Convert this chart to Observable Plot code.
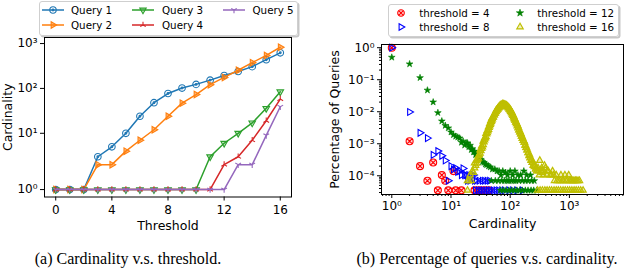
<!DOCTYPE html>
<html><head><meta charset="utf-8">
<script src="https://cdn.jsdelivr.net/npm/d3@7"></script>
<script src="https://cdn.jsdelivr.net/npm/@observablehq/plot@0.6"></script>
<style>
body{margin:0;background:#fff;}
#root{position:relative;width:636px;height:276px;overflow:hidden;font-family:"DejaVu Sans",sans-serif;background:#fff;}
.legend{position:absolute;border:1px solid #cfcfcf;border-radius:3px;background:rgba(255,255,255,0.85);box-shadow:1.5px 1.5px 0 rgba(0,0,0,0.22);}
.ltxt{position:absolute;font-size:10.3px;line-height:12px;white-space:nowrap;color:#000;}
.cap{position:absolute;font-family:"Liberation Serif",serif;font-size:16px;white-space:nowrap;transform:translateX(-50%);top:250px;color:#000;}
</style></head>
<body><div id="root"></div>
<script>
// ---------- Data: (a) Cardinality vs threshold ----------
const thresholds = [0,1,2,3,4,5,6,7,8,9,10,11,12,13,14,15,16];
const query1 = [1,1,1,3,5,10,24,48,77,102,123,153,194,238,306,437,622];
const query2 = [1,1,1,2,2,4,7,12,24,47,73,121,176,254,375,543,827];
const query3 = [1,1,1,1,1,1,1,1,1,1,1,3,6,10,17,36,84];
const query4 = [1,1,1,1,1,1,1,1,1,1,1,1,2,3,7,19,58];
const query5 = [1,1,1,1,1,1,1,1,1,1,1,1,1,2,2,9,39];
const queryNames = ["Query 1","Query 2","Query 3","Query 4","Query 5"];
const queryColors = ["#1f77b4","#ff7f0e","#2ca02c","#d62728","#9467bd"];
const xTicksA = [0,4,8,12,16];
const yTicksA = [1,10,100,1000];
const yTickLabelsA = ["10⁰","10¹","10²","10³"];

// ---------- Data: (b) Percentage of queries vs cardinality ----------
const t4Card = [1,2,3,4,5,6,7,8,9,11,12,15,25,29,33,38,44];
const t4Pct  = [1.0,1.2e-3,2.0e-4,7e-5,2.6e-4,3.5e-5,1.05e-4,7e-5,3.5e-5,1.4e-4,3.5e-5,3.5e-5,3.5e-5,3.5e-5,3.5e-5,3.5e-5,3.5e-5];

const t8Card = [1,2,3,4,5,6,7,8,9,10,11,12,13,14,15,16,17,18,19,20,21,22,24,25,26,27,29,30,32,34,35,37,39,41,43,45,47,52,58,64,72,80,95,110,130,160];
const t8Pct  = [1.0,9.8e-3,2.2e-3,1.5e-3,4.5e-4,5.9e-4,4.2e-4,3.0e-4,7e-5,2.0e-4,1.6e-4,1.75e-4,1.33e-4,1.4e-4,1.05e-4,1.7e-4,1.05e-4,1.05e-4,7e-5,1.05e-4,7e-5,1.05e-4,1.05e-4,7e-5,3.5e-5,7e-5,3.5e-5,7e-5,3.5e-5,7e-5,3.5e-5,7e-5,3.5e-5,7e-5,3.5e-5,7e-5,3.5e-5,3.5e-5,3.5e-5,3.5e-5,3.5e-5,3.5e-5,3.5e-5,3.5e-5,3.5e-5,3.5e-5];

const t12Card = [1,2,3,4,5,6,7,8,9,10,11,12,13,14,15,16,17,18,19,20,21,22,23,24,25,26,27,28,29,30,32,34,36,38,40,43,46,50,55,60,65,70,75,83,90,100,110,120,135,150,170,190,220,
  48,56,63,72,80,88,95,105,115,125,140,160,180,200,230,255,
  68,76,85,95,105,118,130,145,160,180,200,225,250,280];
const t12Pct  = [0.5,0.31,0.115,0.047,0.02,9.3e-3,5.1e-3,3.7e-3,3.1e-3,2.3e-3,1.9e-3,1.7e-3,1.6e-3,1.5e-3,1.1e-3,1.2e-3,9e-4,1.05e-3,1.05e-3,8e-4,8.9e-4,6.5e-4,6.9e-4,5.5e-4,5.8e-4,4.5e-4,4.9e-4,4e-4,3.6e-4,3.4e-4,3.2e-4,2.7e-4,2.6e-4,2.3e-4,2.2e-4,2.0e-4,1.86e-4,1.6e-4,1.6e-4,1.4e-4,1.4e-4,1.05e-4,1.4e-4,1.26e-4,1.05e-4,1.4e-4,1.05e-4,1.4e-4,1.05e-4,1.05e-4,1.4e-4,1.05e-4,1.05e-4,
  7e-5,7e-5,7e-5,7e-5,7e-5,7e-5,7e-5,7e-5,7e-5,7e-5,7e-5,7e-5,7e-5,7e-5,7e-5,7e-5,
  3.5e-5,3.5e-5,3.5e-5,3.5e-5,3.5e-5,3.5e-5,3.5e-5,3.5e-5,3.5e-5,3.5e-5,3.5e-5,3.5e-5,3.5e-5,3.5e-5];

const t16Card = [19,19,20,21,22,23,24,25,26,27,28,29,30,31,32,33,34,35,36,37,38,39,40,41,42,43,44,45,46,47,48,49,50,52,54,56,58,60,62,64,66,68,70,72,74,76,78,80,82,84,86,88,90,93,96,99,102,105,108,111,114,117,120,124,128,132,136,140,145,150,155,160,166,172,178,185,192,200,208,216,225,235,245,256,268,280,295,310,316,330,347,365,380,394,415,440,478,520,560,600,660,720,800,880,975,1050,1150,1270,1400,
  25,27,29,31,33,35,37,39,41,43,45,47,49,51,53,55,57,59,61,63,65,67,69,71,73,75,77,79,81,83,85,87,89,92,95,98,101,104,107,110,113,116,119,122,126,130,134,138,143,148,153,158,163,169,175,182,189,196,204,212,220,230,240,250,262,274,300,340,360,420,500,540,620,700,760,840,920,1000,1100,1200,1330,1480,
  290,320,350,385,420,460,500,550,600,650,710,780,850,930,1010,1100,1200,1300,1420,1550,1700];
const t16Pct  = [3.5e-5,7e-5,7e-5,1.05e-4,7e-5,1.4e-4,1.26e-4,1.75e-4,2.1e-4,2.45e-4,3.2e-4,3.5e-4,4.5e-4,5.0e-4,6.0e-4,7.1e-4,7.9e-4,9.3e-4,1.12e-3,1.3e-3,1.5e-3,1.66e-3,2.0e-3,2.2e-3,2.5e-3,2.8e-3,3.2e-3,3.6e-3,4.0e-3,4.4e-3,4.9e-3,5.4e-3,5.9e-3,6.8e-3,7.9e-3,9.0e-3,1.0e-2,1.1e-2,1.2e-2,1.3e-2,1.38e-2,1.45e-2,1.5e-2,1.55e-2,1.6e-2,1.62e-2,1.62e-2,1.6e-2,1.58e-2,1.54e-2,1.5e-2,1.45e-2,1.4e-2,1.3e-2,1.2e-2,1.12e-2,1.02e-2,9.3e-3,8.5e-3,7.6e-3,6.8e-3,6.0e-3,5.4e-3,4.7e-3,4.2e-3,3.6e-3,3.1e-3,2.7e-3,2.3e-3,2.0e-3,1.7e-3,1.45e-3,1.26e-3,1.1e-3,9.0e-4,7.6e-4,6.3e-4,5.2e-4,4.2e-4,3.6e-4,3.0e-4,2.6e-4,2.1e-4,1.9e-4,1.6e-4,1.4e-4,1.75e-4,1.05e-4,3.0e-4,1.4e-4,1.26e-4,1.05e-4,2.1e-4,1.75e-4,1.05e-4,1.4e-4,1.05e-4,1.4e-4,7e-5,1.05e-4,7e-5,1.05e-4,7e-5,7e-5,1.05e-4,7e-5,7e-5,7e-5,7e-5,
  2.5e-4,3.0e-4,4.2e-4,6.3e-4,8.5e-4,1.2e-3,1.5e-3,2.1e-3,2.6e-3,3.3e-3,4.2e-3,5.2e-3,6.2e-3,6.6e-3,7.9e-3,8.9e-3,1.05e-2,1.15e-2,1.25e-2,1.35e-2,1.45e-2,1.55e-2,1.6e-2,1.65e-2,1.7e-2,1.75e-2,1.72e-2,1.68e-2,1.66e-2,1.6e-2,1.62e-2,1.55e-2,1.5e-2,1.42e-2,1.35e-2,1.25e-2,1.12e-2,1.05e-2,9.5e-3,8.4e-3,7.6e-3,6.8e-3,6.0e-3,5.5e-3,4.8e-3,4.2e-3,3.7e-3,3.2e-3,2.7e-3,2.3e-3,2.0e-3,1.7e-3,1.5e-3,1.25e-3,1.1e-3,9e-4,7.5e-4,6.3e-4,5.2e-4,4.5e-4,3.8e-4,3.2e-4,2.6e-4,2.3e-4,2.1e-4,1.75e-4,1.4e-4,1.75e-4,1.4e-4,1.4e-4,1.05e-4,1.05e-4,7e-5,7e-5,7e-5,1.05e-4,7e-5,7e-5,7e-5,7e-5,7e-5,7e-5,
  3.5e-5,3.5e-5,3.5e-5,3.5e-5,3.5e-5,3.5e-5,3.5e-5,3.5e-5,3.5e-5,3.5e-5,3.5e-5,3.5e-5,3.5e-5,3.5e-5,3.5e-5,3.5e-5,3.5e-5,3.5e-5,3.5e-5,3.5e-5,3.5e-5];

const seriesNamesB = ["threshold = 4","threshold = 8","threshold = 12","threshold = 16"];
const seriesColorsB = ["#ff0000","#0000ff","#008000","#bfbf00"];
const xTicksB = [1,10,100,1000];
const xTickLabelsB = ["10⁰","10¹","10²","10³"];
const yTicksB = [1,0.1,0.01,0.001,0.0001];
const yTickLabelsB = ["10⁰","10⁻¹","10⁻²","10⁻³","10⁻⁴"];

// ---------- helpers ----------
// matplotlib-style symlog (linthresh = 2, linscale = 1, base 10)
const symlog = v => v <= 2 ? v / 0.9 : 2 * (1 / 0.9 + Math.log10(v / 2));
const rad = s => Math.sqrt(s / Math.PI);
const symRight = {draw(c, s){const r = rad(s)*1.15; c.moveTo(r,0); c.lineTo(-r*0.5,-r*0.866); c.lineTo(-r*0.5,r*0.866); c.closePath();}};
const symDown = {draw(c, s){const r = rad(s)*1.15; c.moveTo(0,r); c.lineTo(-r*0.866,-r*0.5); c.lineTo(r*0.866,-r*0.5); c.closePath();}};
const symUp = {draw(c, s){const r = rad(s)*1.15; c.moveTo(0,-r); c.lineTo(-r*0.866,r*0.5); c.lineTo(r*0.866,r*0.5); c.closePath();}};
const symTriUp = {draw(c, s){const r = rad(s); c.moveTo(0,0); c.lineTo(0,-r); c.moveTo(0,0); c.lineTo(-r*0.866,r*0.5); c.moveTo(0,0); c.lineTo(r*0.866,r*0.5);}};
const symTriDown = {draw(c, s){const r = rad(s); c.moveTo(0,0); c.lineTo(0,r); c.moveTo(0,0); c.lineTo(-r*0.866,-r*0.5); c.moveTo(0,0); c.lineTo(r*0.866,-r*0.5);}};
const symCircle = {draw(c, s){const r = rad(s); c.moveTo(r,0); c.arc(0,0,r,0,2*Math.PI); c.moveTo(0.9,0); c.arc(0,0,0.9,0,2*Math.PI);}};
const symCircleX = {draw(c, s){const r = rad(s); const k = r*0.7; c.moveTo(r,0); c.arc(0,0,r,0,2*Math.PI); c.moveTo(-k,-k); c.lineTo(k,k); c.moveTo(-k,k); c.lineTo(k,-k);}};

const querySeries = [query1, query2, query3, query4, query5];
const querySymbols = [symCircle, symRight, symDown, symTriUp, symTriDown];
const queryFill = ["none", 0.55, 0.25, "none", "none"];

const rowsA = thresholds.map((t, i) => ({t, v: querySeries.map(s => s[i])}));

const root = document.getElementById("root");
function place(el, left, top){ el.style.position = "absolute"; el.style.left = left + "px"; el.style.top = top + "px"; root.appendChild(el); }

// ---------- Chart (a) ----------
const marksA = [];
querySeries.forEach((s, k) => {
  marksA.push(Plot.line(rowsA, {x: "t", y: d => symlog(d.v[k]), stroke: queryColors[k], strokeWidth: 1.5}));
  const f = queryFill[k];
  marksA.push(Plot.dot(rowsA, {x: "t", y: d => symlog(d.v[k]), symbol: querySymbols[k], r: 3.3,
    stroke: queryColors[k], strokeWidth: 1.1,
    fill: f === "none" ? "none" : queryColors[k], fillOpacity: f === "none" ? 1 : f}));
});
const chartA = Plot.plot({
  width: 310, height: 240, marginLeft: 44, marginRight: 19, marginTop: 37, marginBottom: 43.5,
  style: {fontFamily: "DejaVu Sans", fontSize: "12px", color: "#000", background: "transparent", overflow: "visible"},
  x: {domain: [-0.8, 16.8]},
  y: {domain: [0.78, 7.89]},
  marks: [
    Plot.axisX({ticks: xTicksA, tickSize: 4, tickPadding: 4.5, label: null, fontSize: 12}),
    Plot.axisY({ticks: yTicksA.map(symlog), tickSize: 4, tickPadding: 3, label: null, fontSize: 12,
      tickFormat: t => yTickLabelsA[yTicksA.findIndex(v => Math.abs(symlog(v) - t) < 1e-6)]}),
    Plot.text(["Threshold"], {text: d => d, frameAnchor: "bottom", textAnchor: "middle", lineAnchor: "middle", dy: 28.5, fontSize: 12.5}),
    Plot.text(["Cardinality"], {text: d => d, frameAnchor: "left", textAnchor: "middle", lineAnchor: "middle", rotate: -90, dx: -37, fontSize: 12.5}),
    ...marksA,
    Plot.frame({stroke: "#000", strokeWidth: 1})
  ]
});
place(chartA, 0, 0);

// ---------- Chart (b) ----------
const zip = (c, p) => c.map((x, i) => ({c: x, p: p[i]}));
const minorX = []; for (let e = -1; e <= 3; e++) for (let m = 2; m <= 9; m++) { const v = m * Math.pow(10, e); if (v > 0.67 && v < 8200) minorX.push(v); }
const minorY = []; for (let e = -5; e <= 0; e++) for (let m = 2; m <= 9; m++) { const v = m * Math.pow(10, e); if (v > 2.6e-5 && v < 1.259) minorY.push(v); }
const chartB = Plot.plot({
  width: 318, height: 240, marginLeft: 63, marginRight: 13, marginTop: 44, marginBottom: 46,
  style: {fontFamily: "DejaVu Sans", fontSize: "12px", color: "#000", background: "transparent", overflow: "visible"},
  x: {type: "log", domain: [0.67, 8200]},
  y: {type: "log", domain: [2.6e-5, 1.259]},
  marks: [
    Plot.axisX({ticks: minorX, tickSize: 2, label: null, tickFormat: () => ""}),
    Plot.axisY({ticks: minorY, tickSize: 2, label: null, tickFormat: () => ""}),
    Plot.axisX({ticks: xTicksB, tickSize: 4, tickPadding: 3, label: null, fontSize: 12,
      tickFormat: t => xTickLabelsB[xTicksB.findIndex(v => Math.abs(v - t) < 1e-9 * v)]}),
    Plot.axisY({ticks: yTicksB, tickSize: 4, tickPadding: 3, label: null, fontSize: 12,
      tickFormat: t => yTickLabelsB[yTicksB.findIndex(v => Math.abs(v - t) < 1e-9 * v)]}),
    Plot.text(["Cardinality"], {text: d => d, frameAnchor: "bottom", textAnchor: "middle", lineAnchor: "middle", dy: 29.5, fontSize: 12.5}),
    Plot.text(["Percentage of Queries"], {text: d => d, frameAnchor: "left", textAnchor: "middle", lineAnchor: "middle", rotate: -90, dx: -47, fontSize: 12.5}),
    Plot.dot(zip(t4Card, t4Pct), {x: "c", y: "p", symbol: symCircleX, r: 3.5, stroke: seriesColorsB[0], strokeWidth: 1.1, fill: seriesColorsB[0], fillOpacity: 0.15}),
    Plot.dot(zip(t8Card, t8Pct), {x: "c", y: "p", symbol: symRight, r: 3.4, stroke: seriesColorsB[1], strokeWidth: 1.1, fill: "none"}),
    Plot.dot(zip(t12Card, t12Pct), {x: "c", y: "p", symbol: "star", r: 2.1, stroke: seriesColorsB[2], strokeWidth: 0.6, fill: seriesColorsB[2]}),
    Plot.dot(zip(t16Card, t16Pct), {x: "c", y: "p", symbol: symUp, r: 3.2, stroke: seriesColorsB[3], strokeWidth: 1.2, fill: seriesColorsB[3], fillOpacity: 0.25}),
    Plot.frame({stroke: "#000", strokeWidth: 1})
  ]
});
place(chartB, 318, 0);

// ---------- Legends ----------
function box(left, top, w, h){ const d = document.createElement("div"); d.className = "legend"; d.style.left = left+"px"; d.style.top = top+"px"; d.style.width = w+"px"; d.style.height = h+"px"; root.appendChild(d); }
function label(text, left, yc){ const s = document.createElement("span"); s.className = "ltxt"; s.textContent = text; s.style.left = left+"px"; s.style.top = (yc - 6)+"px"; root.appendChild(s); }
function handle(left, yc, w, withLine, color, sym, r, fill, fillOpacity, sw){
  const svg = d3.create("svg").attr("width", w).attr("height", 14).style("position","absolute").style("left", left+"px").style("top", (yc-7)+"px").style("overflow","visible");
  if (withLine) svg.append("line").attr("x1",0).attr("x2",w).attr("y1",7).attr("y2",7).attr("stroke",color).attr("stroke-width",1.5);
  svg.append("path").attr("d", d3.symbol().type(sym).size(r*r*Math.PI)()).attr("transform",`translate(${w/2},7)`)
    .attr("stroke", color).attr("stroke-width", sw).attr("fill", fill).attr("fill-opacity", fillOpacity);
  root.appendChild(svg.node());
}
box(39, 1, 257, 33);
const legA = [[42,71,9.5],[42,71,25],[132,162,9.5],[132,162,25],[223,252.5,9.5]];
queryNames.forEach((n, k) => {
  const [hx, tx, yc] = legA[k];
  const f = queryFill[k];
  handle(hx, yc, 22, true, queryColors[k], querySymbols[k], 3.2, f === "none" ? "none" : queryColors[k], f === "none" ? 1 : f, 1.1);
  label(n, tx, yc);
});
box(388, 4, 229, 31);
const legB = [[401,419.3,12.7],[401,419.3,27.3],[519.5,537.3,12.7],[519.5,537.3,27.3]];
const symB = [symCircleX, symRight, d3.symbolStar, symUp];
const fillB = [[seriesColorsB[0],0.15],["none",1],[seriesColorsB[2],1],[seriesColorsB[3],0.25]];
seriesNamesB.forEach((n, k) => {
  const [hx, tx, yc] = legB[k];
  handle(hx - 7, yc, 14, false, seriesColorsB[k], symB[k], k === 2 ? 2.3 : 3.3, fillB[k][0], fillB[k][1], k === 2 ? 0.6 : 1.1);
  label(n, tx, yc);
});

// ---------- Captions ----------
function caption(text, cx){ const d = document.createElement("div"); d.className = "cap"; d.textContent = text; d.style.left = cx+"px"; root.appendChild(d); }
caption("(a)  Cardinality v.s. threshold.", 128);
caption("(b)  Percentage of queries v.s. cardinality.", 487);
</script></body></html>
